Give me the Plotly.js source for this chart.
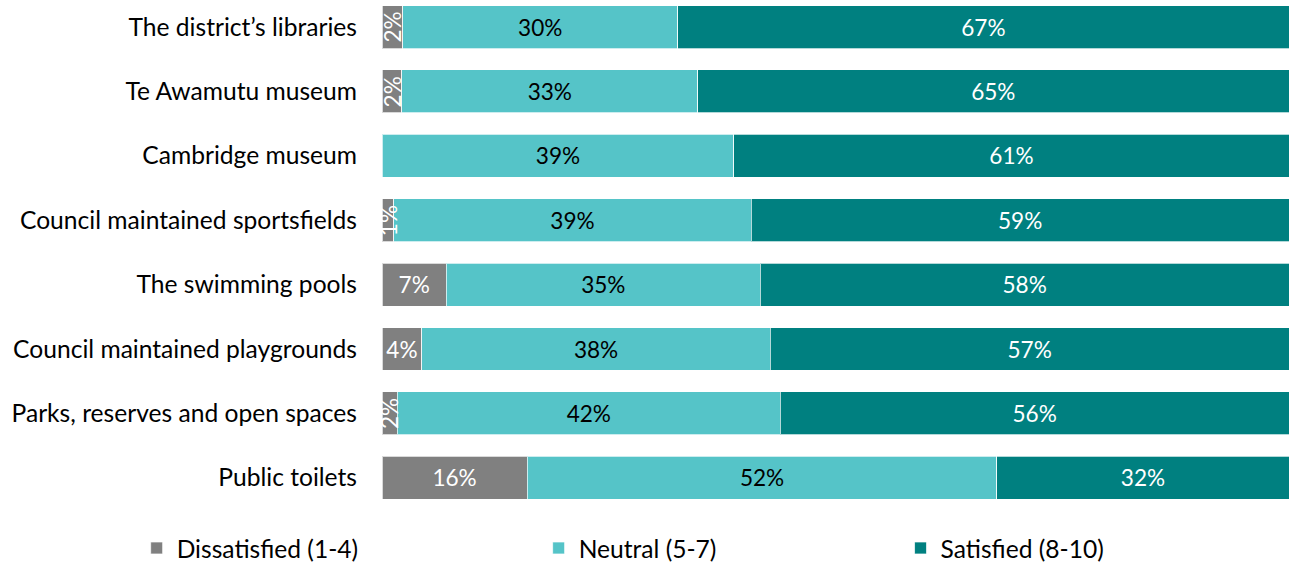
<!DOCTYPE html>
<html><head><meta charset="utf-8">
<script src="https://cdn.plot.ly/plotly-3.0.1.min.js"></script>
<style>html,body{margin:0;padding:0;background:#fff}#chart{width:1293px;height:563px}</style>
</head><body><div id="chart"></div>
<script>
const categories = ["The district\u2019s libraries","Te Awamutu museum","Cambridge museum","Council maintained sportsfields","The swimming pools","Council maintained playgrounds","Parks, reserves and open spaces","Public toilets"];
const dissatisfied = [2.3, 2.2, 0, 1.3, 7.1, 4.4, 1.7, 16.0];
const neutral = [30.3, 32.6, 38.8, 39.4, 34.6, 38.4, 42.2, 51.8];
const satisfied = [67.4, 65.2, 61.2, 59.3, 58.3, 57.2, 56.1, 32.2];
const seriesNames = ["Dissatisfied (1-4)","Neutral (5-7)","Satisfied (8-10)"];
const colors = ["#808080","#55C4C8","#008080"];

const FONT = "Lato, 'Open Sans', sans-serif";
const LABEL_SIZE = 22.6;
const TEXT_SIZE = 24.6;
const pct = v => Math.round(v) + "%";

const traces = [
  {name: seriesNames[0], x: dissatisfied, color: colors[0], txtColor: "#ffffff", legend: "legend",
   text: dissatisfied.map(v => v >= 3 ? pct(v) : "")},
  {name: seriesNames[1], x: neutral, color: colors[1], txtColor: "#000000", legend: "legend2",
   text: neutral.map(pct)},
  {name: seriesNames[2], x: satisfied, color: colors[2], txtColor: "#ffffff", legend: "legend3",
   text: satisfied.map(pct)}
].map(s => ({
  type: "bar", orientation: "h", name: s.name, x: s.x, y: categories,
  legend: s.legend,
  marker: {color: s.color, line: {color: "rgba(255,255,255,0.7)", width: 1}},
  text: s.text, textposition: "inside", insidetextanchor: "middle",
  constraintext: "none", textangle: 0,
  insidetextfont: {family: FONT, size: LABEL_SIZE, color: s.txtColor},
  hoverinfo: "skip"
}));

// rotated labels for very thin dissatisfied segments
const annotations = [];
dissatisfied.forEach((v, i) => {
  if (v > 0 && v < 3) {
    annotations.push({x: v / 2, y: categories[i], xref: "x", yref: "y", text: pct(v),
      showarrow: false, textangle: -90, font: {family: FONT, size: LABEL_SIZE, color: "#ffffff"}});
  }
});

const legendBase = {orientation: "h", y: -0.0745, yanchor: "middle", xanchor: "left",
  font: {family: FONT, size: TEXT_SIZE, color: "#000000"}, bgcolor: "rgba(0,0,0,0)", itemwidth: 30};

const layout = {
  width: 1293, height: 563,
  margin: {l: 382, r: 4, t: 0, b: 53, autoexpand: false},
  barmode: "stack", bargap: 0.333,
  paper_bgcolor: "#ffffff", plot_bgcolor: "#ffffff",
  xaxis: {range: [0, 100], showticklabels: false, showgrid: false, zeroline: false, fixedrange: true},
  yaxis: {type: "category", range: [7.5, -0.42], showgrid: false, zeroline: false, showline: false,
    ticks: "", ticklabelstandoff: 24, tickfont: {family: FONT, size: TEXT_SIZE, color: "#000000"}},
  showlegend: true,
  legend: Object.assign({}, legendBase, {x: -0.2705}),
  legend2: Object.assign({}, legendBase, {x: 0.1727}),
  legend3: Object.assign({}, legendBase, {x: 0.5717}),
  annotations: annotations
};

Plotly.newPlot("chart", traces, layout, {displayModeBar: false, staticPlot: true});
</script></body></html>
